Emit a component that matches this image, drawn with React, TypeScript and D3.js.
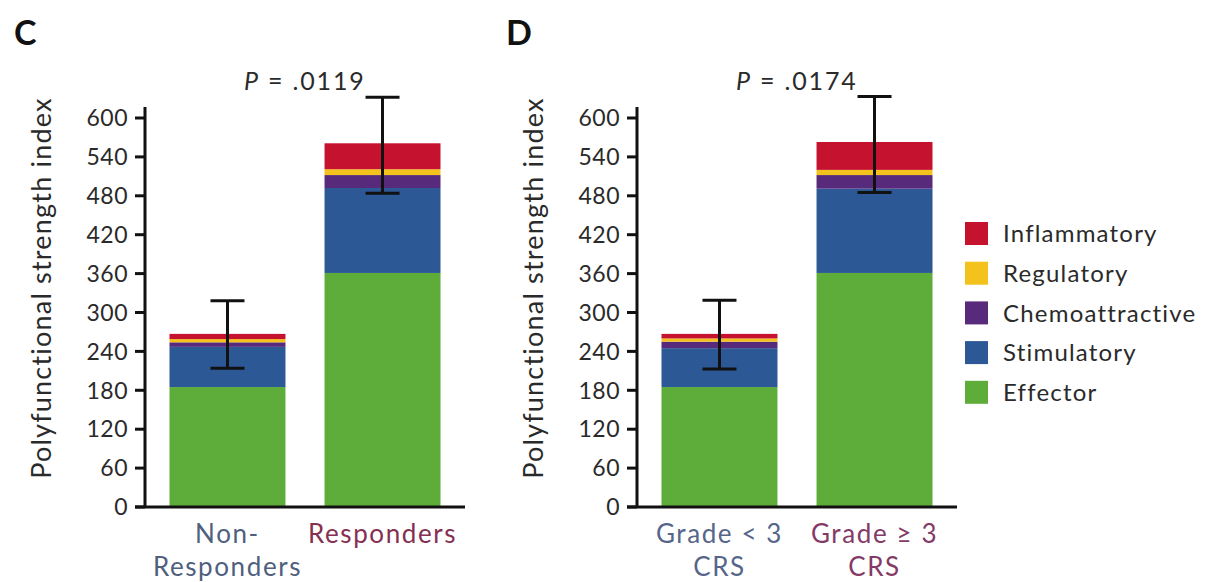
import React from 'react';
import * as d3 from 'd3';

// series, bottom to top
const seriesNames = ['Effector', 'Stimulatory', 'Chemoattractive', 'Regulatory', 'Inflammatory'];
const seriesColors = ['#5ead3b', '#2c5896', '#582a7c', '#f4c21c', '#c5122f'];
const legendOrder = ['Inflammatory', 'Regulatory', 'Chemoattractive', 'Stimulatory', 'Effector'];

const yTicks = [0, 60, 120, 180, 240, 300, 360, 420, 480, 540, 600];

// panel C
const categoriesC = ['Non-Responders', 'Responders'];
const labelLinesC = [['Non-', 'Responders'], ['Responders']];
const labelColorsC = ['#4f5f7d', '#843052'];
const effectorC = [185, 361];
const stimulatoryC = [62, 131];
const chemoattractiveC = [7, 20];
const regulatoryC = [5, 9];
const inflammatoryC = [8, 40];
const errUpperC = [318, 632];
const errLowerC = [214, 484];
const pValueC = '.0119';

// panel D
const categoriesD = ['Grade < 3 CRS', 'Grade ≥ 3 CRS'];
const labelLinesD = [['Grade < 3', 'CRS'], ['Grade ≥ 3', 'CRS']];
const labelColorsD = ['#56668a', '#843a66'];
const effectorD = [185, 361];
const stimulatoryD = [60, 130];
const chemoattractiveD = [10, 21];
const regulatoryD = [5, 8];
const inflammatoryD = [7, 43];
const errUpperD = [319, 633];
const errLowerD = [213, 485];
const pValueD = '.0174';

const font = 'Lato, "Open Sans", sans-serif';
const textColor = '#2a2a2a';

type PanelProps = {
  x0: number;
  letter: string;
  categories: string[];
  labelLines: string[][];
  labelColors: string[];
  values: number[][];
  upper: number[];
  lower: number[];
  pValue: string;
};

const Panel = ({ x0, letter, categories, labelLines, labelColors, values, upper, lower, pValue }: PanelProps) => {
  const axisX = x0 + 145;
  const y = d3.scaleLinear().domain([0, 600]).range([507, 118]);
  const x = d3.scaleBand<string>().domain(categories).range([axisX, x0 + 465]).paddingInner(0.252).paddingOuter(0.158);

  const rows = categories.map((c, i) => {
    const r: any = { cat: c };
    seriesNames.forEach((s, k) => (r[s] = values[k][i]));
    return r;
  });
  const stacked = d3.stack().keys(seriesNames)(rows);
  const bw = x.bandwidth();
  const capHalf = 17;
  const lastCx = (x(categories[1]) as number) + bw / 2;

  return (
    <g>
      <text x={x0 + 14} y={45} fontFamily={font} fontWeight={700} fontSize={34} fill="#111">{letter}</text>
      <text
        transform={`translate(${x0 + 51},288) rotate(-90)`}
        textAnchor="middle"
        fontFamily={font}
        fontSize={27}
        letterSpacing={1.2}
        fill={textColor}
      >Polyfunctional strength index</text>

      {stacked.map((layer, k) => (
        <g key={layer.key} fill={seriesColors[k]}>
          {layer.map((d, i) => (
            <rect
              key={i}
              x={x(categories[i])}
              y={y(d[1])}
              width={bw}
              height={y(d[0]) - y(d[1])}
            />
          ))}
        </g>
      ))}

      {/* error bars */}
      {categories.map((c, i) => {
        const cx = (x(c) as number) + bw / 2;
        return (
          <g key={c} stroke="#111" strokeWidth={3}>
            <line x1={cx} x2={cx} y1={y(upper[i])} y2={y(lower[i])} />
            <line x1={cx - capHalf} x2={cx + capHalf} y1={y(upper[i])} y2={y(upper[i])} />
            <line x1={cx - capHalf} x2={cx + capHalf} y1={y(lower[i])} y2={y(lower[i])} />
          </g>
        );
      })}

      <text x={lastCx - 17} y={90} textAnchor="end" fontFamily={font} fontSize={25} letterSpacing={1.8} fill={textColor}>
        <tspan fontStyle="italic">P</tspan> = {pValue}
      </text>

      {/* y axis */}
      <line x1={axisX} x2={axisX} y1={107} y2={y(0)} stroke="#111" strokeWidth={3} />
      {yTicks.map((t) => (
        <g key={t}>
          <line x1={axisX - 10} x2={axisX} y1={y(t)} y2={y(t)} stroke="#111" strokeWidth={3} />
          <text x={axisX - 17} y={y(t)} dy="0.36em" textAnchor="end" fontFamily={font} fontSize={23} letterSpacing={0.5} fill={textColor}>{t}</text>
        </g>
      ))}
      {/* x axis */}
      <line x1={axisX - 10} x2={x0 + 465} y1={y(0)} y2={y(0)} stroke="#111" strokeWidth={3} />
      {categories.map((c, i) => {
        const cx = (x(c) as number) + bw / 2;
        return (
          <text key={c} textAnchor="middle" fontFamily={font} fontSize={26} letterSpacing={1.6} fill={labelColors[i]}>
            {labelLines[i].map((l, j) => (
              <tspan key={j} x={cx} y={543 + j * 33}>{l}</tspan>
            ))}
          </text>
        );
      })}
    </g>
  );
};

const App = () => {
  return (
    <svg width={1205} height={582} style={{ position: 'absolute', left: 0, top: 0, background: '#fff' }}>
      <Panel
        x0={0}
        letter="C"
        categories={categoriesC}
        labelLines={labelLinesC}
        labelColors={labelColorsC}
        values={[effectorC, stimulatoryC, chemoattractiveC, regulatoryC, inflammatoryC]}
        upper={errUpperC}
        lower={errLowerC}
        pValue={pValueC}
      />
      <Panel
        x0={492}
        letter="D"
        categories={categoriesD}
        labelLines={labelLinesD}
        labelColors={labelColorsD}
        values={[effectorD, stimulatoryD, chemoattractiveD, regulatoryD, inflammatoryD]}
        upper={errUpperD}
        lower={errLowerD}
        pValue={pValueD}
      />
      {/* legend */}
      {legendOrder.map((name, i) => (
        <g key={name} transform={`translate(965,${222 + i * 39.7})`}>
          <rect width={23} height={23} fill={seriesColors[seriesNames.indexOf(name)]} />
          <text x={38} y={11.5} dy="0.36em" fontFamily={font} fontSize={24} letterSpacing={1.2} fill={textColor}>{name}</text>
        </g>
      ))}
    </svg>
  );
};

export default App;
